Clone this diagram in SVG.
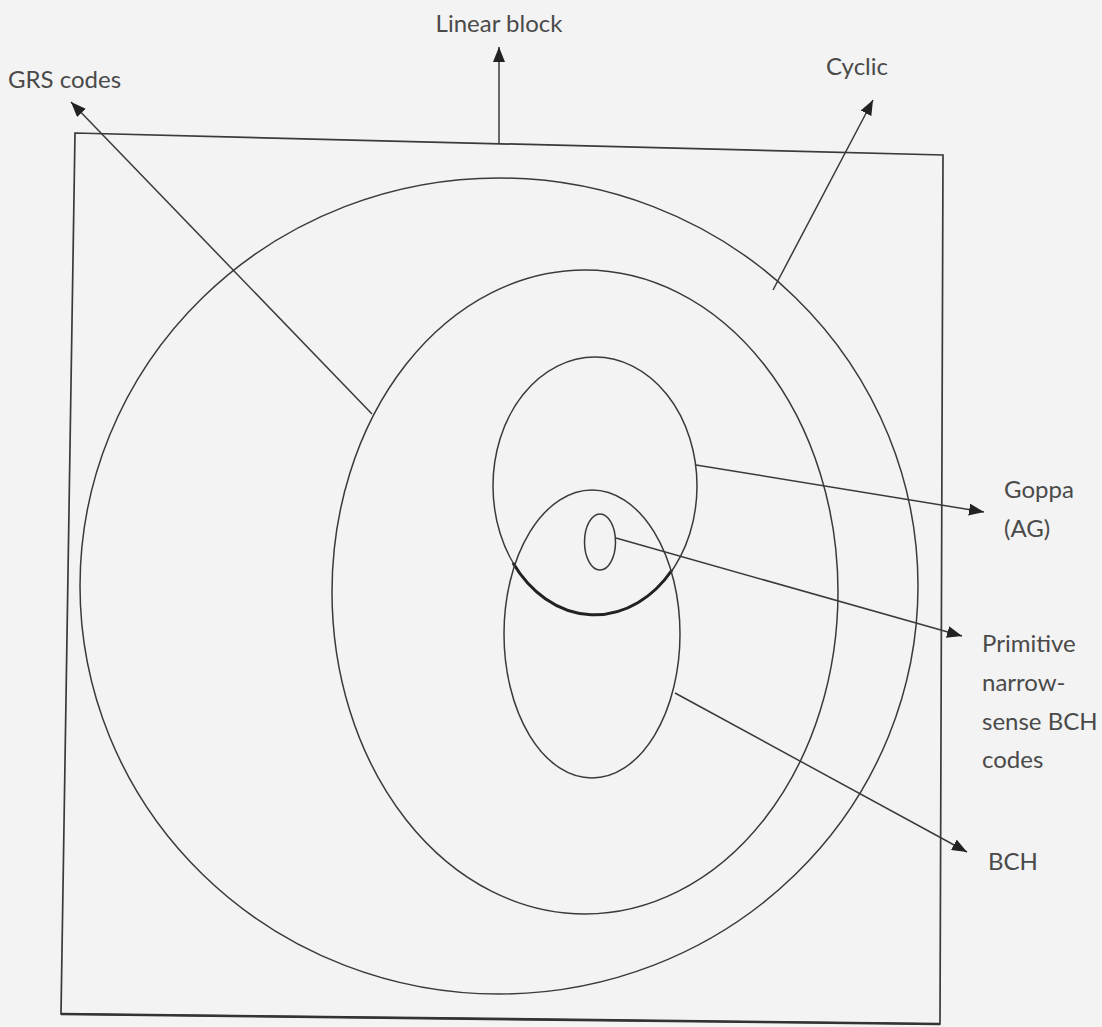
<svg xmlns="http://www.w3.org/2000/svg" width="1102" height="1027" viewBox="0 0 1102 1027">
  <defs>
    <style>
      .ln { fill: none; stroke: #3a3a3a; stroke-width: 1.5; }
      .box { fill: none; stroke: #3a3a3a; stroke-width: 1.7; }
      .lbl { font-family: Lato, "Liberation Sans", sans-serif; font-size: 24px; fill: #4a4a4a; }
      .arr { fill: none; stroke: #3a3a3a; stroke-width: 1.5; marker-end: url(#ah); }
    </style>
    <marker id="ah" markerUnits="userSpaceOnUse" markerWidth="16" markerHeight="12" refX="15" refY="6" orient="auto">
      <path d="M0,0 L15,6 L0,12 z" fill="#222"/>
    </marker>
  </defs>
  <rect x="0" y="0" width="1102" height="1027" fill="#f3f3f3"/>

  <g id="frame">
    <path class="box" d="M75,133 L943,155 L940,1024 L61,1014 Z"/>
    <path d="M61,1014 L940,1024" fill="none" stroke="#333" stroke-width="2.6"/>
  </g>

  <g id="linear-block">
    <text class="lbl" x="499" y="32" text-anchor="middle">Linear block</text>
  </g>
  <g id="cyclic">
    <ellipse class="ln" cx="499" cy="586" rx="419" ry="408"/>
    <text class="lbl" x="826" y="75">Cyclic</text>
  </g>
  <g id="grs-codes">
    <ellipse class="ln" cx="585" cy="592" rx="253" ry="322"/>
    <text class="lbl" x="8" y="88">GRS codes</text>
  </g>
  <g id="goppa">
    <ellipse class="ln" cx="595" cy="486" rx="102" ry="129"/>
    <path d="M513,563 A102,129 0 0 0 672,570" fill="none" stroke="#222" stroke-width="3"/>
    <text class="lbl" x="1004" y="498">Goppa</text>
    <text class="lbl" x="1004" y="537">(AG)</text>
  </g>
  <g id="bch">
    <ellipse class="ln" cx="592" cy="634" rx="88" ry="144"/>
    <text class="lbl" x="988" y="870">BCH</text>
  </g>
  <g id="primitive-narrow-sense-bch">
    <ellipse class="ln" cx="600" cy="542" rx="15.5" ry="28"/>
    <text class="lbl" x="982" y="652">Primitive</text>
    <text class="lbl" x="982" y="691">narrow-</text>
    <text class="lbl" x="982" y="730">sense BCH</text>
    <text class="lbl" x="982" y="768">codes</text>
  </g>

  <g id="connectors">
    <line class="arr" x1="499" y1="143" x2="499" y2="47"/>
    <line class="arr" x1="372" y1="414" x2="71" y2="102"/>
    <line class="arr" x1="773" y1="290" x2="873" y2="100"/>
    <line class="arr" x1="696" y1="465" x2="984" y2="512"/>
    <line class="arr" x1="616" y1="538" x2="962" y2="636"/>
    <line class="arr" x1="675" y1="693" x2="967" y2="852"/>
  </g>
</svg>
